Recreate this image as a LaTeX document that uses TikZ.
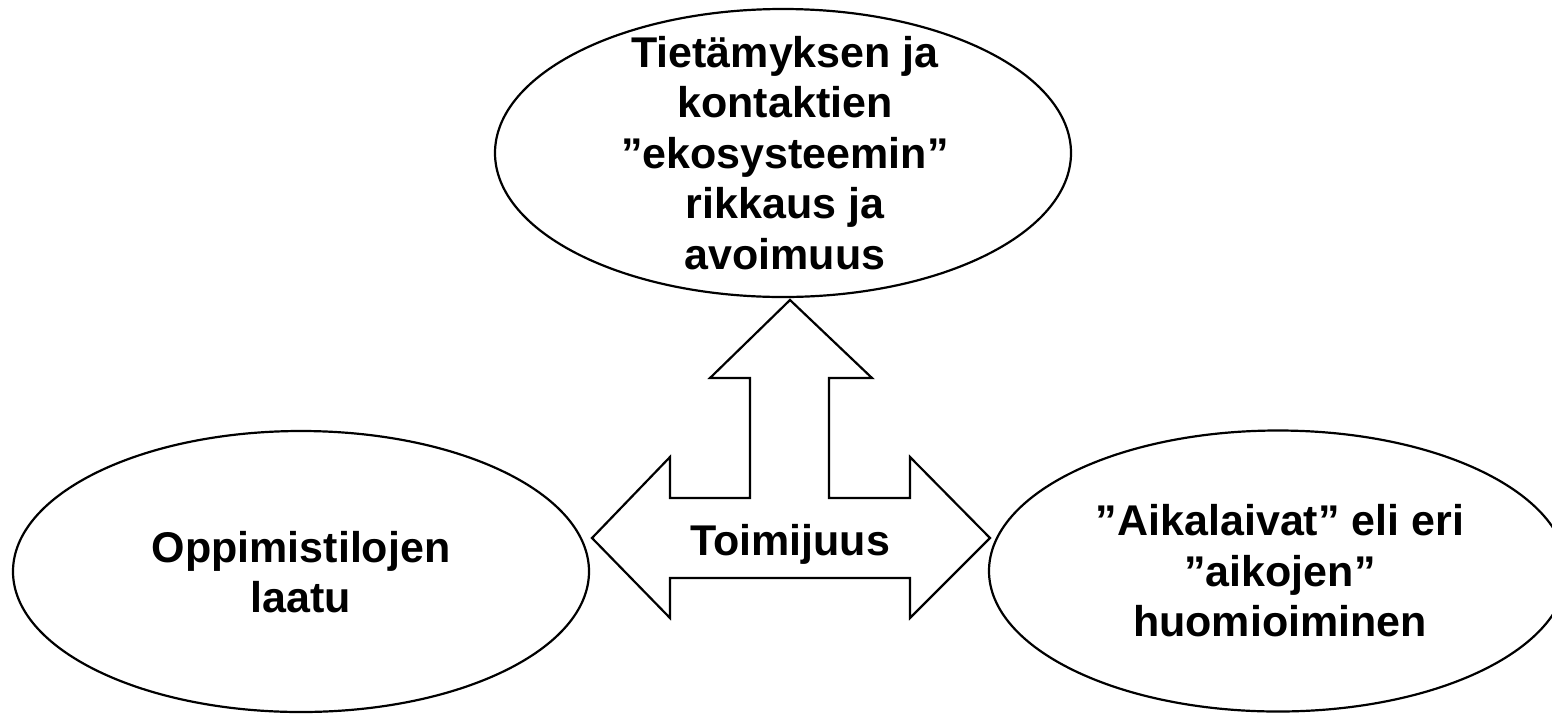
\documentclass[tikz,border=0pt]{standalone}
\usepackage{fontspec}
\setmainfont{Liberation Sans}
\usetikzlibrary{shapes.geometric}
\begin{document}
\begin{tikzpicture}[x=1pt,y=-1pt,
  bubble/.style={draw=black, line width=2.2pt, ellipse, inner sep=0pt},
  bigarrow/.style={draw=black, line width=2.2pt, fill=white, line join=miter},
  lbl/.style={font=\fontsize{43}{50.5}\selectfont\bfseries, inner sep=0pt, align=center}]
\useasboundingbox (0,0) rectangle (1552,713);
\node[bubble, minimum width=576pt, minimum height=288pt] (top) at (783,153) {};
\node[lbl] (toptext) at (785,153)
  {Tietämyksen ja\\kontaktien\\”ekosysteemin”\\rikkaus ja\\avoimuus};
\node[bubble, minimum width=576pt, minimum height=281pt] (left) at (301,571.5) {};
\node[lbl] (lefttext) at (301,572) {Oppimistilojen\\laatu};
\node[bubble, minimum width=578pt, minimum height=281pt] (right) at (1278,571) {};
\node[lbl] (righttext) at (1280,571) {”Aikalaivat” eli eri\\”aikojen”\\huomioiminen};
\draw[bigarrow] (790,300) -- (872,378) -- (829,378) -- (829,498) -- (910,498)
  -- (910,457) -- (990,538) -- (910,618) -- (910,578) -- (670,578) -- (670,618)
  -- (592,538) -- (670,457) -- (670,498) -- (750,498) -- (750,378) -- (710,378) -- cycle;
\node[lbl, anchor=base] (toim) at (790,555) {Toimijuus};
\end{tikzpicture}
\end{document}
